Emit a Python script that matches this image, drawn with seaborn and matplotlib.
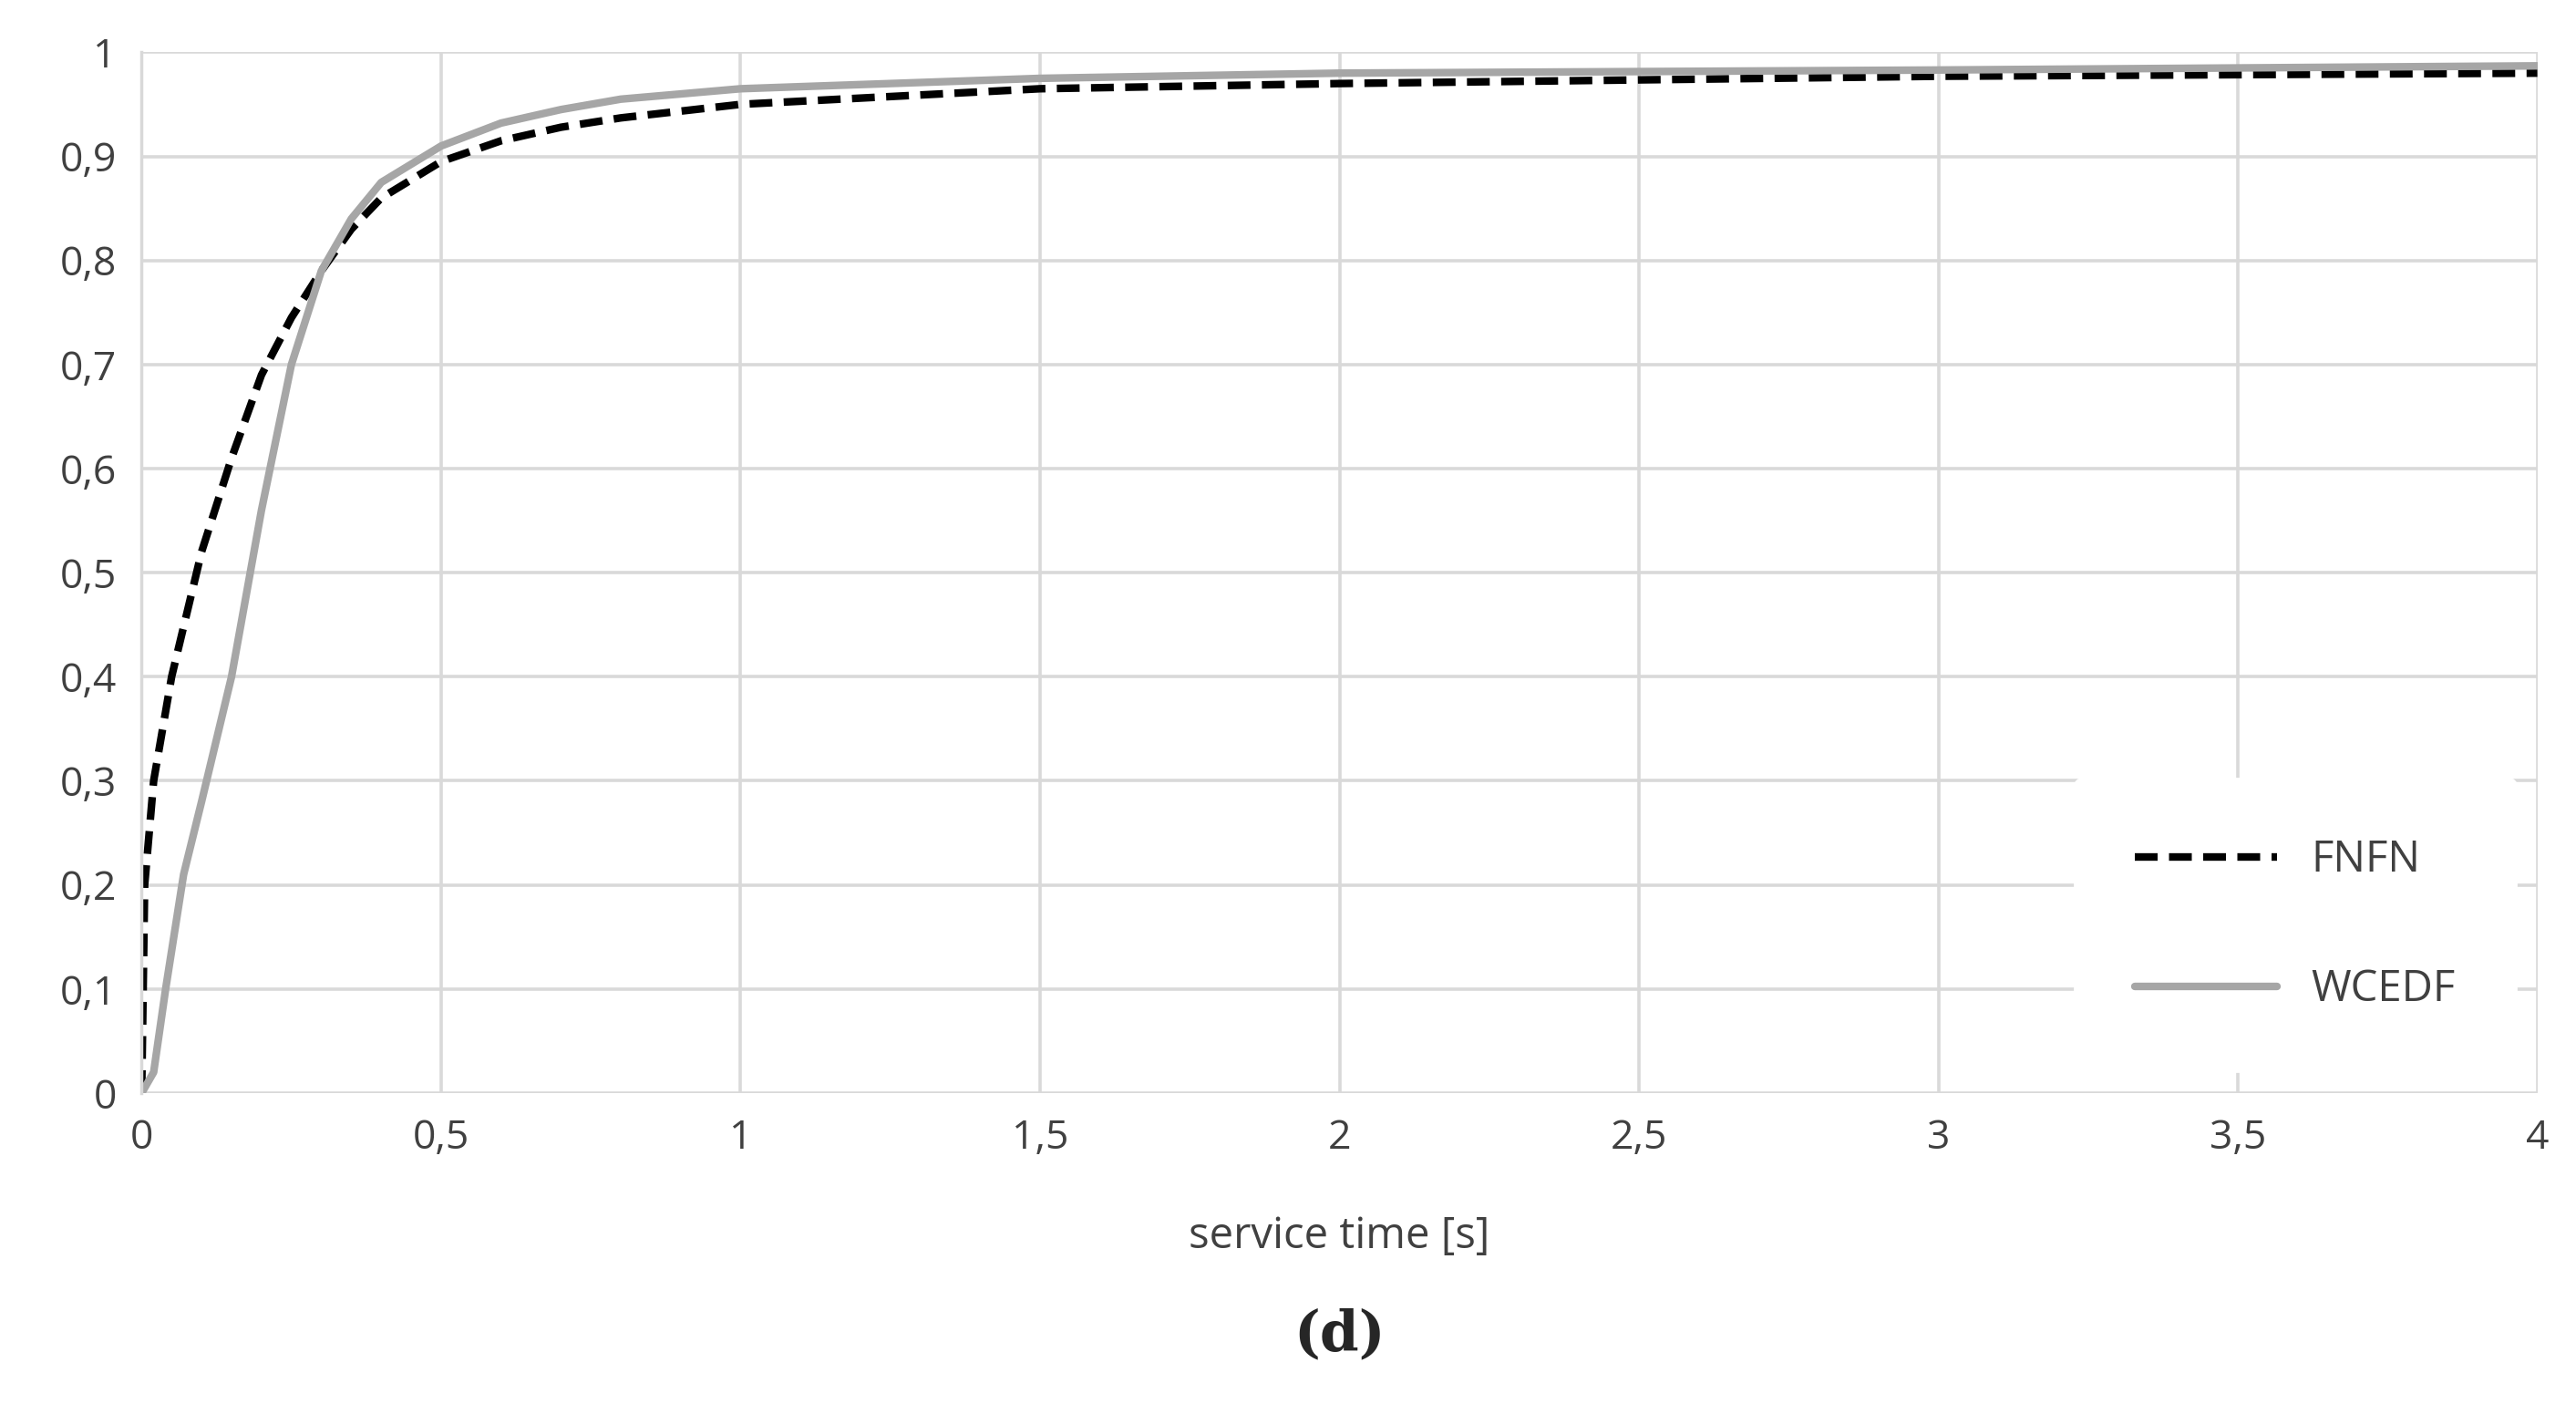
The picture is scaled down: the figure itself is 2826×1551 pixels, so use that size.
import seaborn as sns
import matplotlib.pyplot as plt
import pandas as pd

fnfn_x = [0, 0.005, 0.02, 0.05, 0.1, 0.15, 0.2, 0.25, 0.3, 0.35, 0.4, 0.5, 0.6, 0.7, 0.8, 1.0, 1.5, 2.0, 3.0, 4.0]
fnfn_y = [0, 0.2, 0.3, 0.4, 0.52, 0.61, 0.69, 0.745, 0.79, 0.83, 0.86, 0.895, 0.915, 0.928, 0.937, 0.95, 0.965, 0.97, 0.977, 0.98]
wcedf_x = [0, 0.02, 0.04, 0.07, 0.1, 0.15, 0.2, 0.25, 0.3, 0.35, 0.4, 0.5, 0.6, 0.7, 0.8, 1.0, 1.5, 2.0, 3.0, 4.0]
wcedf_y = [0, 0.02, 0.1, 0.21, 0.28, 0.4, 0.56, 0.7, 0.79, 0.84, 0.875, 0.91, 0.932, 0.945, 0.955, 0.965, 0.975, 0.98, 0.983, 0.987]

df = pd.concat([
    pd.DataFrame({"x": fnfn_x, "y": fnfn_y, "series": "FNFN"}),
    pd.DataFrame({"x": wcedf_x, "y": wcedf_y, "series": "WCEDF"}),
])

sns.set_theme(style="white")
plt.rcParams['font.family'] = ['Open Sans', 'DejaVu Sans']
txt = "#404040"

fig = plt.figure(figsize=(14.13, 7.755), dpi=200)
ax = fig.add_axes([0.055, 0.227, 0.93, 0.736])

sns.lineplot(ax=ax, data=df, x="x", y="y", hue="series", style="series",
             palette={"FNFN": "black", "WCEDF": "#a6a6a6"},
             dashes={"FNFN": (3, 1.5), "WCEDF": ""}, linewidth=3.0, sort=False)

ax.set_xlim(0, 4)
ax.set_ylim(0, 1)
ax.set_xticks([0, 0.5, 1, 1.5, 2, 2.5, 3, 3.5, 4])
ax.set_xticklabels(["0", "0,5", "1", "1,5", "2", "2,5", "3", "3,5", "4"])
ax.set_yticks([i / 10 for i in range(11)])
ax.set_yticklabels(["0"] + [f"0,{i}" for i in range(1, 10)] + ["1"])
ax.tick_params(labelsize=16, colors=txt, length=0, pad=10)
ax.grid(True, color="#d9d9d9", linewidth=1.3)
for s in ["top", "right", "bottom"]:
    ax.spines[s].set_visible(False)
ax.spines["left"].set_color("#d9d9d9")
ax.set_axisbelow(True)
ax.set_xlabel("service time [s]", fontsize=17, color=txt, labelpad=22)
ax.set_ylabel("")

leg = ax.legend(loc="lower right", bbox_to_anchor=(1.0, 0.0), frameon=True,
                fontsize=17, handlelength=3.3, labelspacing=2.0,
                borderpad=1.4, facecolor="white", edgecolor="white", framealpha=1)
for t in leg.get_texts():
    t.set_color(txt)

fig.text(0.52, 0.045, "(d)", ha="center", fontsize=22, fontweight="bold",
         family="DejaVu Serif")

plt.savefig("out.png", dpi=200)
